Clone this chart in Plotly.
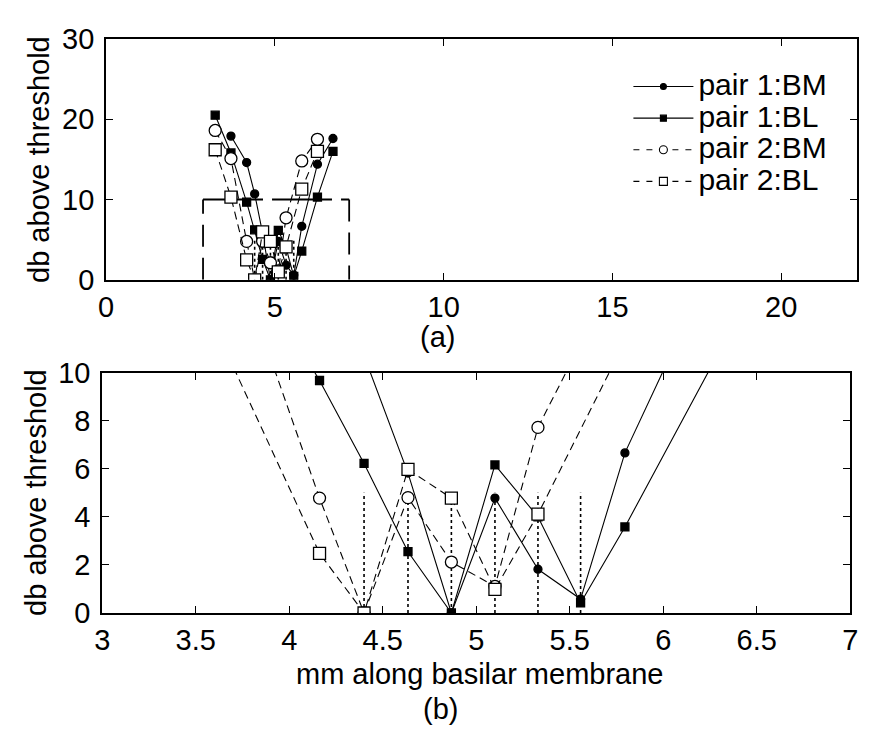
import plotly.graph_objects as go

# ---- data (mm along basilar membrane, dB above threshold) ----
p1_bm_x = [3.697, 4.162, 4.400, 4.635, 4.867, 5.100, 5.330, 5.558, 5.795, 6.260, 6.720]
p1_bm_y = [17.9, 14.6, 10.7, 5.82, 0.0, 4.78, 1.82, 0.58, 6.66, 14.4, 17.6]
p1_bl_x = [3.230, 3.697, 4.162, 4.400, 4.635, 4.867, 5.100, 5.330, 5.558, 5.795, 6.260, 6.720]
p1_bl_y = [20.5, 15.8, 9.67, 6.22, 2.55, 0.0, 6.16, 4.0, 0.42, 3.58, 10.3, 16.0]
p2_bm_x = [3.230, 3.697, 4.162, 4.400, 4.635, 4.867, 5.100, 5.330, 5.795, 6.260]
p2_bm_y = [18.6, 15.1, 4.78, 0.0, 4.80, 2.12, 1.11, 7.72, 14.8, 17.5]
p2_bl_x = [3.230, 3.697, 4.162, 4.400, 4.635, 4.867, 5.100, 5.330, 5.795, 6.260]
p2_bl_y = [16.2, 10.3, 2.48, 0.0, 5.97, 4.78, 0.98, 4.11, 11.3, 16.0]

dotted_x = [4.400, 4.635, 4.867, 5.100, 5.330, 5.558]
dotted_top = 5.0

zoom_box_x = [2.87, 7.2]
zoom_box_y = [0.0, 10.0]

top_xticks = [0, 5, 10, 15, 20]
top_yticks = [0, 10, 20, 30]
bot_xticks = [3, 3.5, 4, 4.5, 5, 5.5, 6, 6.5, 7]
bot_xlabels = ["3", "3.5", "4", "4.5", "5", "5.5", "6", "6.5", "7"]
bot_yticks = [0, 2, 4, 6, 8, 10]

labels = ["pair 1:BM", "pair 1:BL", "pair 2:BM", "pair 2:BL"]

FONT = "Liberation Sans, Arial, sans-serif"
FS = 29
W, H = 872, 740

series = [
    (p1_bm_x, p1_bm_y, "circle", "black", 8, "solid"),
    (p1_bl_x, p1_bl_y, "square", "black", 8, "solid"),
    (p2_bm_x, p2_bm_y, "circle", "white", 12, "8px,5px"),
    (p2_bl_x, p2_bl_y, "square", "white", 12, "8px,5px"),
]

fig = go.Figure()

# dotted vertical lines in both panels
dx, dy = [], []
for x in dotted_x:
    dx += [x, x, None]
    dy += [0, dotted_top, None]
for xa, ya in (("x", "y"), ("x2", "y2")):
    fig.add_trace(go.Scatter(x=dx, y=dy, mode="lines", xaxis=xa, yaxis=ya,
                             line=dict(color="black", width=1.6, dash="dot"),
                             showlegend=False, hoverinfo="skip"))

# zoom box in top panel (left, top, right edges)
bx0, bx1 = zoom_box_x
by0, by1 = zoom_box_y
for xs, ys, dash in (([bx0, bx0], [by0, by1], "22px,11px"),
                     ([bx0, bx1], [by1, by1], "60px,9px"),
                     ([bx1, bx1], [by1, by0], "22px,11px")):
    fig.add_trace(go.Scatter(x=xs, y=ys, mode="lines", xaxis="x", yaxis="y",
                             line=dict(color="black", width=1.8, dash=dash),
                             showlegend=False, hoverinfo="skip"))

for (xs, ys, sym, fill, size, dash) in series:
    for xa, ya in (("x", "y"), ("x2", "y2")):
        fig.add_trace(go.Scatter(
            x=xs, y=ys, mode="lines+markers", xaxis=xa, yaxis=ya,
            line=dict(color="black", width=1.1, dash=dash),
            marker=dict(symbol=sym, color=fill, size=size,
                        line=dict(color="black", width=1.3)),
            showlegend=False, cliponaxis=True))

# legend-only traces (larger text inside a compact legend row height)
for (xs, ys, sym, fill, size, dash), name in zip(series, labels):
    fig.add_trace(go.Scatter(
        x=[None], y=[None], mode="lines+markers",
        name='<span style="font-size:30px">%s</span>' % name, xaxis="x", yaxis="y",
        line=dict(color="black", width=1.1, dash=("solid" if dash == "solid" else "6px,7px")),
        marker=dict(symbol=sym, color=fill, size=(6 if fill == "black" else 8),
                    line=dict(color="black", width=1.1)),
        showlegend=True))

axis_common = dict(showline=True, linecolor="black", linewidth=2, mirror="ticks",
                   ticks="inside", ticklen=7, tickwidth=1.3, tickcolor="black",
                   showgrid=False, zeroline=False,
                   tickfont=dict(family=FONT, size=FS, color="black"))

txt = dict(family=FONT, size=FS, color="black")

fig.update_layout(
    width=W, height=H,
    margin=dict(l=0, r=0, t=0, b=0),
    paper_bgcolor="white", plot_bgcolor="white",
    font=txt,
    xaxis=dict(domain=[100 / W, 865 / W], anchor="y", range=[0, 22.25],
               tickvals=top_xticks, **axis_common),
    yaxis=dict(domain=[1 - 275.7 / H, 1 - 24 / H], anchor="x", range=[0, 30],
               tickvals=top_yticks, ticklabelstandoff=4, **axis_common),
    xaxis2=dict(domain=[96 / W, 858 / W], anchor="y2", range=[3, 7],
                tickvals=bot_xticks, ticktext=bot_xlabels, **axis_common),
    yaxis2=dict(domain=[1 - 624 / H, 1 - 372.7 / H], anchor="x2", range=[0, 10],
                tickvals=bot_yticks, ticklabelstandoff=4, **axis_common),
    legend=dict(x=632 / W, y=1 - 52 / H, xanchor="left", yanchor="top",
                bgcolor="rgba(0,0,0,0)", itemwidth=60, tracegroupgap=0,
                font=dict(family=FONT, size=22, color="black")),
    annotations=[
        dict(text="db above threshold", x=31 / W, y=1 - 150 / H, xref="paper", yref="paper",
             xanchor="center", yanchor="middle",
             textangle=-90, showarrow=False, font=txt),
        dict(text="db above threshold", x=29 / W, y=1 - 498 / H, xref="paper", yref="paper",
             xanchor="center", yanchor="middle",
             textangle=-90, showarrow=False, font=txt),
        dict(text="(a)", x=438 / W, y=1 - 336 / H, xref="paper", yref="paper",
             xanchor="center", yanchor="middle", showarrow=False, font=txt),
        dict(text="mm along basilar membrane", x=480 / W, y=1 - 688 / H, xref="paper",
             yref="paper", xanchor="center", yanchor="middle", showarrow=False, font=txt),
        dict(text="(b)", x=441 / W, y=1 - 724 / H, xref="paper", yref="paper",
             xanchor="center", yanchor="middle", showarrow=False, font=txt),
    ],
)

fig.write_html("out.html")
